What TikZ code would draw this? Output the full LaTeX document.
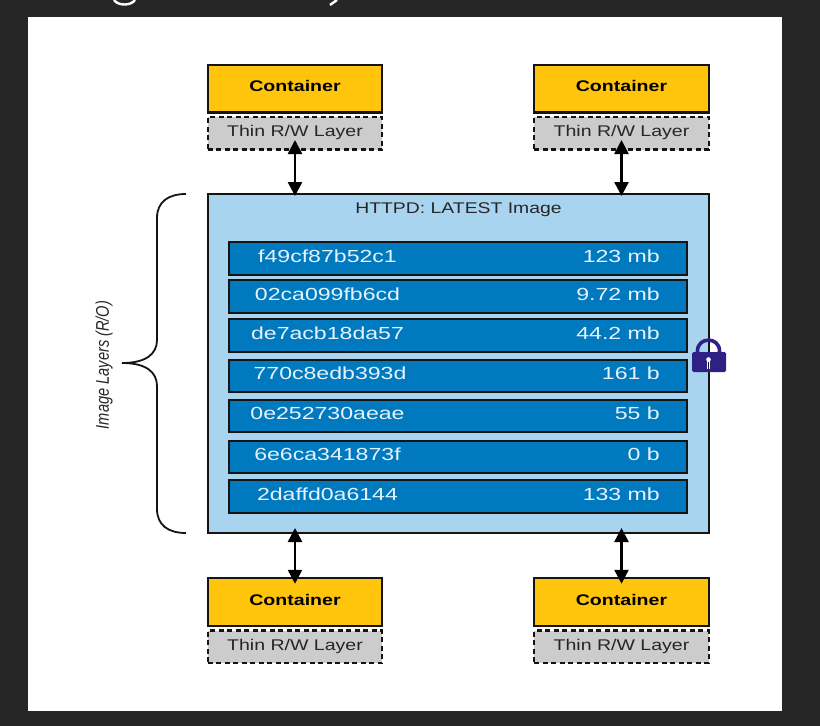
\documentclass[tikz,border=0pt]{standalone}
\usepackage{fontspec}
\usepackage{graphicx}
\setmainfont{Liberation Sans}
\usetikzlibrary{arrows.meta}
\definecolor{bgdark}{HTML}{262626}
\definecolor{contyellow}{HTML}{FFC40C}
\definecolor{thingrey}{HTML}{CCCCCC}
\definecolor{imgblue}{HTML}{A9D4F0}
\definecolor{layerblue}{HTML}{0079BF}
\definecolor{inkline}{HTML}{141414}
\definecolor{locknavy}{HTML}{2E2085}
\definecolor{layertext}{HTML}{E6F3FC}
\newcommand{\wide}[2]{\scalebox{#1}[1]{#2}}
\tikzset{
  x=1pt,y=-1pt,
  boxbase/.style={inner sep=0pt,outer sep=0pt,draw=inkline,line width=2.1pt},
  contbox/.style={boxbase,fill=contyellow,minimum width=174.5pt,minimum height=47.5pt},
  thinbox/.style={boxbase,fill=thingrey,dashed,dash pattern=on 5pt off 3.5pt,minimum width=174.5pt,minimum height=32.5pt},
  imgbox/.style={boxbase,fill=imgblue,minimum width=501pt,minimum height=339pt},
  layerbox/.style={boxbase,fill=layerblue,minimum width=458pt,minimum height=32.5pt},
  conttext/.style={inner sep=0pt,anchor=base,text=black,font=\fontsize{15.4}{18}\selectfont\bfseries},
  thintext/.style={inner sep=0pt,anchor=base,text=black!85,font=\fontsize{15.5}{18}\selectfont},
  hashtext/.style={inner sep=0pt,anchor=base,text=layertext,font=\fontsize{17.5}{20}\selectfont},
  sizetext/.style={inner sep=0pt,anchor=base east,text=layertext,font=\fontsize{17.5}{20}\selectfont},
  twoway/.style={line width=2.5pt,draw=black,{Triangle[width=14pt,length=14pt]}-{Triangle[width=14pt,length=14pt]}},
}
\begin{document}
\begin{tikzpicture}
\useasboundingbox (0,0) rectangle (820,726);
\fill[bgdark] (0,0) rectangle (820,726);
\fill[white] (28,17) rectangle (782,711);
% clipped remains of a title line
\draw[white,line width=2.4pt] (114,0) .. controls (118,6) and (131,6) .. (135,0);
\draw[white,line width=2.4pt] (337,0) -- (330,5);

% image
\node[imgbox] (img) at (458.5,363.5) {};
\node[thintext] (imgt) at (458.5,213) {\wide{1.25}{HTTPD: LATEST Image}};

% layers
\node[layerbox] (l1) at (458,258.5) {};
\node[layerbox] (l2) at (458,296.5) {};
\node[layerbox] (l3) at (458,335.5) {};
\node[layerbox] (l4) at (458,376) {};
\node[layerbox] (l5) at (458,416) {};
\node[layerbox] (l6) at (458,457) {};
\node[layerbox] (l7) at (458,496.5) {};

\node[hashtext] (h1) at (327.5,262.5) {\wide{1.32}{f49cf87b52c1}};
\node[hashtext] (h2) at (327.5,300) {\wide{1.32}{02ca099fb6cd}};
\node[hashtext] (h3) at (327.5,339) {\wide{1.32}{de7acb18da57}};
\node[hashtext] (h4) at (330,379.5) {\wide{1.32}{770c8edb393d}};
\node[hashtext] (h5) at (327.5,419.5) {\wide{1.32}{0e252730aeae}};
\node[hashtext] (h6) at (327.5,460.5) {\wide{1.32}{6e6ca341873f}};
\node[hashtext] (h7) at (327.5,500) {\wide{1.32}{2daffd0a6144}};

\node[sizetext] (s1) at (660,262.5) {\wide{1.32}{123 mb}};
\node[sizetext] (s2) at (660,300) {\wide{1.32}{9.72 mb}};
\node[sizetext] (s3) at (660,339) {\wide{1.32}{44.2 mb}};
\node[sizetext] (s4) at (660,379.5) {\wide{1.32}{161 b}};
\node[sizetext] (s5) at (660,419.5) {\wide{1.32}{55 b}};
\node[sizetext] (s6) at (660,460.5) {\wide{1.32}{0 b}};
\node[sizetext] (s7) at (660,500) {\wide{1.32}{133 mb}};

% containers
\node[contbox] (ctl) at (295,88.75) {};
\node[thinbox] (ttl) at (295,133.25) {};
\node[contbox] (ctr) at (621.5,88.75) {};
\node[thinbox] (ttr) at (621.5,133.25) {};
\node[contbox] (cbl) at (295,602) {};
\node[thinbox] (tbl) at (295,646.75) {};
\node[contbox] (cbr) at (621.5,602) {};
\node[thinbox] (tbr) at (621.5,646.75) {};

\foreach \n/\xx/\yy in {a/295/91.7,b/621.5/91.7,c/295/605,d/621.5/605}
  \node[conttext] (ctxt\n) at (\xx,\yy) {\wide{1.27}{Container}};
\foreach \n/\xx/\yy in {a/295/136.7,b/621.5/136.7,c/295/650,d/621.5/650}
  \node[thintext] (ttxt\n) at (\xx,\yy) {\wide{1.26}{Thin R/W Layer}};

% connectors
\draw[twoway] ([yshift=9.5pt]ttl.south) -- ([yshift=-2pt]ttl.south |- img.north);
\draw[twoway] ([yshift=9.5pt]ttr.south) -- ([yshift=-2pt]ttr.south |- img.north);
\draw[twoway] ([yshift=5pt]img.south -| cbl.north) -- ([yshift=-5.5pt]cbl.north);
\draw[twoway] ([yshift=5pt]img.south -| cbr.north) -- ([yshift=-5.5pt]cbr.north);

% brace
\draw[inkline,line width=1.8pt] (186,194) .. controls (168,194) and (157,202) .. (157,218)
  -- (157,340) .. controls (157,354) and (146,363) .. (122,363)
  .. controls (146,363) and (157,372) .. (157,386)
  -- (157,509) .. controls (157,525) and (168,533) .. (186,533);
\node[inner sep=0pt,rotate=90,text=black!85,font=\fontsize{14.6}{17}\selectfont\itshape] (brl) at (104,365) {\scalebox{1}[1.26]{Image Layers (R/O)}};

% lock
\draw[locknavy,line width=3.6pt] (697.5,353) -- (697.5,351) .. controls (697.5,336.5) and (719.5,336.5) .. (719.5,351) -- (719.5,353);
\fill[locknavy,rounded corners=1.5pt] (692,352) rectangle (726,372);
\fill[white] (708.5,359.5) circle (2.3pt);
\fill[white] (707,360) rectangle (710,369);
\draw[inkline,line width=1.2pt] (708.5,362) -- (708.5,369);
\end{tikzpicture}
\end{document}
